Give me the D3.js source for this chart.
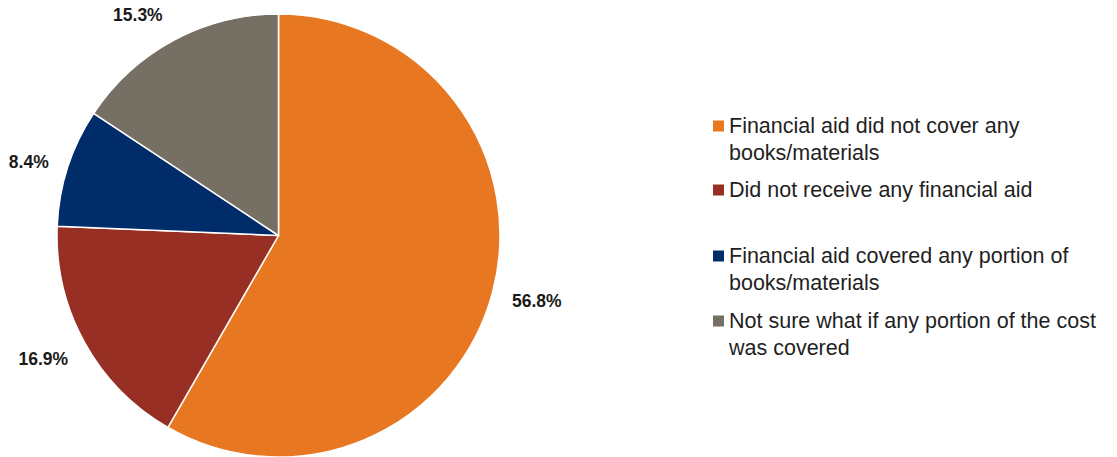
<!DOCTYPE html>
<html>
<head>
<meta charset="utf-8">
<script src="https://cdn.jsdelivr.net/npm/d3@7/dist/d3.min.js"></script>
<style>
  html, body { margin: 0; padding: 0; background: #fff; }
  svg { display: block; }
</style>
</head>
<body>
<svg id="chart" width="1117" height="457"></svg>
<script>
// Survey responses on how financial aid covered books/materials
const categories = [
  "Financial aid did not cover any books/materials",
  "Did not receive any financial aid",
  "Financial aid covered any portion of books/materials",
  "Not sure what if any portion of the cost was covered"
];
const values = [56.8, 16.9, 8.4, 15.3];
const valueLabels = ["56.8%", "16.9%", "8.4%", "15.3%"];
const colors = ["#E87722", "#972F24", "#002D6A", "#766F63"];
// Legend entries wrapped over lines
const legendLines = [
  ["Financial aid did not cover any", "books/materials"],
  ["Did not receive any financial aid"],
  ["Financial aid covered any portion of", "books/materials"],
  ["Not sure what if any portion of the cost", "was covered"]
];

const svg = d3.select("#chart");
const cx = 278.5, cy = 235.5, radius = 221.5;
const fontFamily = "'Liberation Sans', Arial, sans-serif";

const pie = d3.pie().sort(null).value(d => d);
const arcs = pie(values);
const arc = d3.arc().innerRadius(0).outerRadius(radius);
const anchorArc = d3.arc().innerRadius(radius + 21).outerRadius(radius + 21);

const g = svg.append("g").attr("transform", `translate(${cx},${cy})`);

g.selectAll("path.slice")
  .data(arcs)
  .join("path")
  .attr("class", "slice")
  .attr("d", arc)
  .attr("fill", (d, i) => colors[i])
  .attr("stroke", "#ffffff")
  .attr("stroke-width", 1.5)
  .attr("stroke-linejoin", "round");

// Outside-end labels: the label box sits just beyond the rim, pushed away
// from the centre along the slice's mid angle.
const labelSize = 17.5;
const labelShift = [[0, 1], [-1, 3], [0, 3], [-14, -1]]; // small nudges for readability
const labels = g.selectAll("text.pct")
  .data(arcs)
  .join("text")
  .attr("class", "pct")
  .attr("text-anchor", "middle")
  .attr("dy", "0.35em")
  .style("font-family", fontFamily)
  .style("font-weight", "bold")
  .style("font-size", labelSize + "px")
  .attr("fill", "#1a1a1a")
  .text((d, i) => valueLabels[i]);

labels.attr("transform", function (d, i) {
  const w = this.getComputedTextLength();
  const h = labelSize * 0.8;
  const a = (d.startAngle + d.endAngle) / 2;
  const [ax, ay] = anchorArc.centroid(d);
  const x = ax + Math.sin(a) * w / 2 + labelShift[i][0];
  const y = ay - Math.cos(a) * h / 2 + labelShift[i][1];
  return `translate(${x},${y})`;
});

// Legend
const legendX = 713, textX = 729;
const rowBaselines = [133, 197, 263, 328];
const lineGap = 27;
const legend = svg.append("g");
categories.forEach((c, i) => {
  const row = legend.append("g");
  row.append("rect")
    .attr("x", legendX)
    .attr("y", rowBaselines[i] - 12.5)
    .attr("width", 11)
    .attr("height", 11)
    .attr("fill", colors[i]);
  const t = row.append("text")
    .attr("x", textX)
    .attr("y", rowBaselines[i])
    .style("font-family", fontFamily)
    .style("font-size", "21.5px")
    .attr("fill", "#1f1f1f");
  legendLines[i].forEach((ln, j) => {
    t.append("tspan").attr("x", textX).attr("y", rowBaselines[i] + j * lineGap).text(ln);
  });
});
</script>
</body>
</html>
